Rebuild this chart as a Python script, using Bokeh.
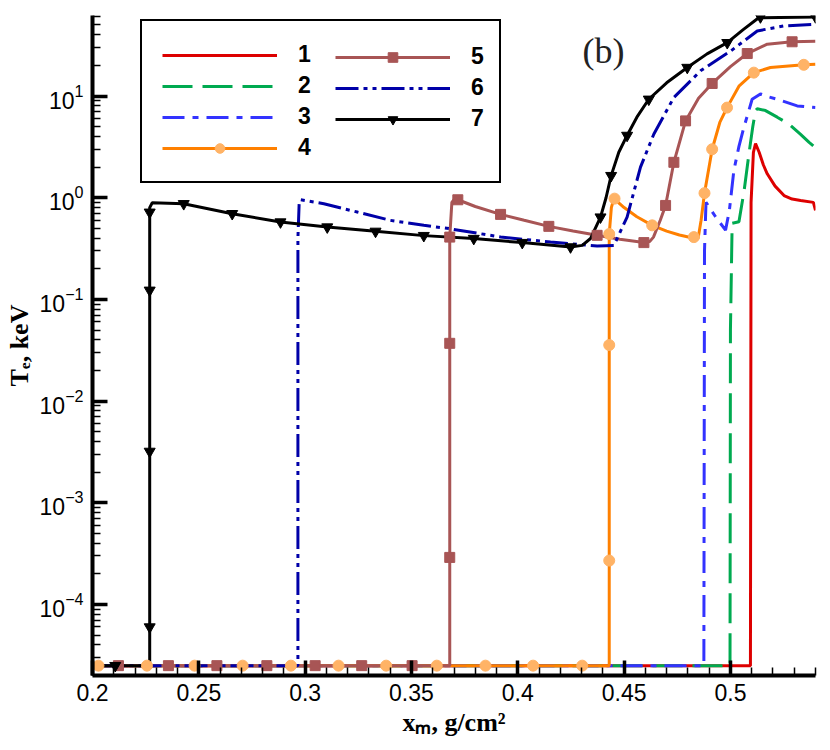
from bokeh.plotting import figure
from bokeh.models import Legend, LegendItem, Label, FixedTicker, Range1d
from bokeh.embed import file_html
from bokeh.resources import INLINE

F = 2.5e-5  # floor temperature

# ---------------- data ----------------
labels = ["1", "2", "3", "4", "5", "6", "7"]

x1 = [0.2, 0.5094, 0.5097, 0.5108, 0.5118, 0.5135, 0.5155, 0.5173, 0.5210, 0.5252, 0.5290, 0.5330, 0.5390, 0.5400]
y1 = [F, F, 0.9, 2.8, 3.4, 2.8, 2.1, 1.72, 1.3, 1.05, 0.97, 0.94, 0.90, 0.75]

x2 = [0.2, 0.4998, 0.5000, 0.5008, 0.5040, 0.5065, 0.5087, 0.5105, 0.5118, 0.5126, 0.5165, 0.5220, 0.5275, 0.5330, 0.5370, 0.5400]
y2 = [F, F, 0.05, 0.56, 0.58, 1.2, 2.7, 5.0, 7.2, 7.5, 7.2, 6.2, 5.3, 4.2, 3.5, 3.1]

x3 = [0.2, 0.4875, 0.4878, 0.4885, 0.4930, 0.4977, 0.4995, 0.5016, 0.5040, 0.5063, 0.5102, 0.5141, 0.5180, 0.5220, 0.5314, 0.5400]
y3 = [F, F, 0.3, 0.9, 0.65, 0.48, 0.75, 1.85, 3.2, 4.9, 9.3, 10.5, 9.8, 9.3, 8.0, 7.7]

x4 = [0.2, 0.4430, 0.4430, 0.4440, 0.4452, 0.4500, 0.4560, 0.4632, 0.4700, 0.4760, 0.4828, 0.4848, 0.4862,
      0.4878, 0.4914, 0.4950, 0.4984, 0.5040, 0.5110, 0.5188, 0.5345, 0.5400]
y4 = [F, F, 0.44, 0.80, 0.98, 0.80, 0.65, 0.535, 0.47, 0.43, 0.40, 0.40, 0.60,
      1.11, 3.0, 5.5, 7.7, 12.5, 17.0, 19.1, 20.3, 20.6]
m4x = [0.2028, 0.2256, 0.2480, 0.2706, 0.2933, 0.3157, 0.3381, 0.3619, 0.3848, 0.4072, 0.4303,
       0.4430, 0.4430, 0.4430, 0.4455, 0.4632, 0.4828, 0.4878, 0.4914, 0.4984, 0.5110, 0.5345]
m4y = [F, F, F, F, F, F, F, F, F, F, F,
       2.7e-4, 0.0356, 0.44, 0.98, 0.535, 0.41, 1.11, 3.0, 7.7, 17.0, 20.3]

x5 = [0.2, 0.3680, 0.3680, 0.3690, 0.3699, 0.3718, 0.3800, 0.3919, 0.4030, 0.4146, 0.4260, 0.4373, 0.4480,
      0.4593, 0.4620, 0.4638, 0.4670, 0.4695, 0.4734, 0.4789, 0.4850, 0.4914, 0.5000, 0.5079, 0.5173, 0.5290, 0.5400]
y5 = [F, F, 0.41, 0.90, 0.955, 0.955, 0.82, 0.686, 0.60, 0.523, 0.47, 0.427, 0.39,
      0.362, 0.37, 0.41, 0.60, 0.84, 2.23, 5.7, 9.5, 13.3, 19.5, 26.2, 32.4, 34.2, 34.7]
m5x = [0.2122, 0.2357, 0.2585, 0.2820, 0.3047, 0.3266, 0.3503,
       0.3680, 0.3680, 0.3680, 0.3718, 0.3919, 0.4146, 0.4373, 0.4593, 0.4695, 0.4734, 0.4789, 0.4914, 0.5079, 0.5290]
m5y = [F, F, F, F, F, F, F,
       2.9e-4, 0.037, 0.41, 0.955, 0.686, 0.523, 0.427, 0.362, 0.84, 2.23, 5.7, 13.3, 26.2, 34.2]

x6 = [0.2, 0.2966, 0.2966, 0.2972, 0.2978, 0.3088, 0.3245, 0.3401, 0.3558, 0.3676, 0.3919, 0.4154, 0.4373,
      0.4452, 0.4514, 0.4577, 0.4640, 0.4734, 0.4861, 0.5002, 0.5126, 0.5251, 0.5400]
y6 = [F, F, 0.40, 0.90, 0.956, 0.873, 0.723, 0.599, 0.535, 0.497, 0.411, 0.367, 0.335,
      0.34, 0.645, 2.0, 4.24, 9.7, 17.8, 27.8, 43.7, 48.9, 50.8]

x7 = [0.2, 0.2269, 0.2269, 0.2281, 0.2429, 0.2657, 0.2884, 0.3104, 0.3331, 0.3558, 0.3793, 0.4021, 0.4248,
      0.4303, 0.4342, 0.4389, 0.4415, 0.4439, 0.4475, 0.4514, 0.4560, 0.4616, 0.4700, 0.4797, 0.4890,
      0.4985, 0.5060, 0.5133, 0.5400]
y7 = [F, F, 0.80, 0.893, 0.873, 0.697, 0.577, 0.515, 0.467, 0.424, 0.397, 0.362, 0.328,
      0.34, 0.397, 0.645, 1.0, 1.65, 2.8, 4.1, 6.2, 9.3, 13.5, 19.1, 26.0,
      33.5, 45.0, 59.0, 60.0]
m7x = [0.2107, 0.2269, 0.2269, 0.2269, 0.2269, 0.2429, 0.2657, 0.2884, 0.3104, 0.3331, 0.3558, 0.3793,
       0.4021, 0.4248, 0.4389, 0.4439, 0.4514, 0.4616, 0.4797, 0.4985, 0.5141, 0.5400]
m7y = [F, 6e-5, 3.2e-3, 0.123, 0.72, 0.873, 0.697, 0.577, 0.515, 0.467, 0.424, 0.397,
       0.362, 0.328, 0.645, 1.65, 4.1, 9.3, 19.1, 33.5, 60.0, 60.0]

x_ticks = [0.2, 0.25, 0.3, 0.35, 0.4, 0.45, 0.5]
x_tick_labels = ["0.2", "0.25", "0.3", "0.35", "0.4", "0.45", "0.5"]
x_minor = [round(0.2 + 0.01 * i, 2) for i in range(35)]

x_title = "xₘ, g/cm²"
y_title = "Tₑ, keV"
panel_tag = "(b)"

# ---------------- styles ----------------
RED, GREEN, BLUE, ORANGE, ORANGE_M, BROWN, NAVY, BLACK = (
    "#dd0000", "#00aa50", "#3333ff", "#ff8000", "#ffb366", "#a85555", "#0000a8", "#000000")

p = figure(width=823, height=742, output_backend="svg", toolbar_location=None,
           y_axis_type="log", x_range=Range1d(0.2, 0.54), y_range=Range1d(2e-5, 62),
           min_border_left=92, min_border_right=8, min_border_top=15, min_border_bottom=67)
p.outline_line_color = None
p.grid.visible = False
p.background_fill_color = "white"

for ax in (p.xaxis[0], p.yaxis[0]):
    ax.axis_line_width = 4
    ax.axis_line_color = "black"
    ax.major_tick_in = 15
    ax.major_tick_out = 0
    ax.major_tick_line_width = 3.5
    ax.minor_tick_in = 8
    ax.minor_tick_out = 0
    ax.minor_tick_line_width = 1.5
    ax.major_label_text_font = "Liberation Sans"
    ax.major_label_text_font_size = "23px"
    ax.major_label_text_color = "black"
    ax.axis_label_text_font = "Liberation Serif"
    ax.axis_label_text_font_style = "bold"
    ax.axis_label_text_font_size = "26px"
    ax.axis_label_text_color = "black"

p.xaxis[0].ticker = FixedTicker(ticks=x_ticks, minor_ticks=x_minor)
p.xaxis[0].major_label_overrides = dict(zip(x_ticks, x_tick_labels))
p.xaxis[0].major_label_standoff = 8
p.xaxis[0].axis_label = x_title
p.xaxis[0].axis_label_standoff = 4
p.yaxis[0].major_label_standoff = 9
p.yaxis[0].axis_label = y_title
p.yaxis[0].axis_label_standoff = 3

W = 3
r1 = p.line(x1, y1, line_color=RED, line_width=W)
r2 = p.line(x2, y2, line_color=GREEN, line_width=W, line_dash="30 10")
r3 = p.line(x3, y3, line_color=BLUE, line_width=W, line_dash="22 8 6 8")
r4 = p.line(x4, y4, line_color=ORANGE, line_width=W)
r5 = p.line(x5, y5, line_color=BROWN, line_width=W)
r6 = p.line(x6, y6, line_color=NAVY, line_width=W, line_dash="23 5 4 5 4 5")
r7 = p.line(x7, y7, line_color=BLACK, line_width=W)

s4 = p.scatter(m4x, m4y, marker="circle", size=11, fill_color=ORANGE_M, line_color=ORANGE_M)
s5 = p.scatter(m5x, m5y, marker="square", size=10, fill_color=BROWN, line_color=BROWN)
s7 = p.scatter(m7x, m7y, marker="inverted_triangle", size=11, fill_color=BLACK, line_color=BLACK)

common = dict(glyph_width=115, glyph_height=24, label_height=24, label_standoff=21, spacing=4,
              padding=20, margin=0, label_text_font="Liberation Sans", label_text_font_style="bold",
              label_text_font_size="23px", label_text_color="black", orientation="vertical")

legA = Legend(items=[LegendItem(label=labels[0], renderers=[r1]),
                     LegendItem(label=labels[1], renderers=[r2]),
                     LegendItem(label=labels[2], renderers=[r3]),
                     LegendItem(label=labels[3], renderers=[r4, s4])],
              location=(48, 492), label_width=181, border_line_color="black", border_line_alpha=1.0,
              border_line_width=2, background_fill_color="white", background_fill_alpha=1.0, **common)
legB = Legend(items=[LegendItem(label=labels[4], renderers=[r5, s5]),
                     LegendItem(label=labels[5], renderers=[r6]),
                     LegendItem(label=labels[6], renderers=[r7, s7])],
              location=(243, 543), border_line_color=None, background_fill_alpha=0.0, **common)
p.add_layout(legA)
p.add_layout(legB)

p.add_layout(Label(x=490, y=625, x_units="screen", y_units="screen", text=panel_tag,
                   text_font="Liberation Serif", text_font_size="36px", text_color="#222222",
                   text_align="left", text_baseline="alphabetic"))

open("out.html", "w").write(file_html(p, INLINE))
